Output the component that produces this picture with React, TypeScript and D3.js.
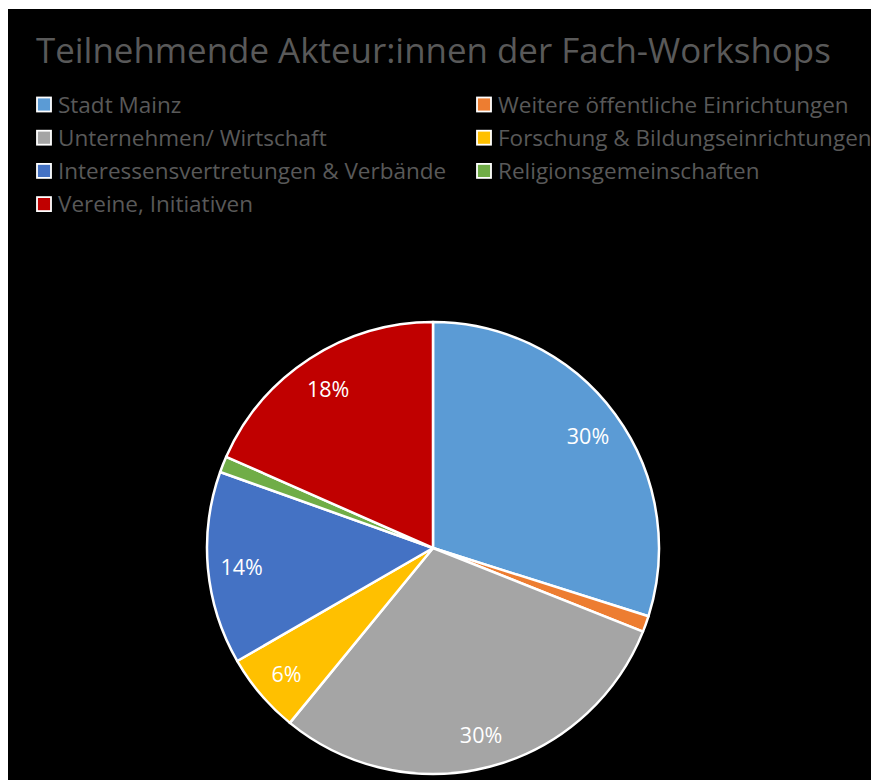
import React from 'react';
import { pie, arc, PieArcDatum } from 'd3';

// counts (labels show rounded shares)
const categories = [
  'Stadt Mainz',
  'Weitere öffentliche Einrichtungen',
  'Unternehmen/ Wirtschaft',
  'Forschung & Bildungseinrichtungen',
  'Interessensvertretungen & Verbände',
  'Religionsgemeinschaften',
  'Vereine, Initiativen',
];
const counts = [26, 1, 26, 5, 12, 1, 16];
const colors = ['#5B9BD5', '#ED7D31', '#A5A5A5', '#FFC000', '#4472C4', '#70AD47', '#C00000'];
// legend layout: column-major order in Excel's two-column legend
const legendOrder = [0, 2, 4, 6, 1, 3, 5];

const title = 'Teilnehmende Akteur:innen der Fach-Workshops';

const W = 863;
const H = 771;
const OX = 8; // page offset of the black card
const OY = 9;

type Slice = { name: string; value: number; color: string };
const slices: Slice[] = categories.map((name, i) => ({ name, value: counts[i], color: colors[i] }));

export default function App() {
  const cx = 433;
  const cy = 548;
  const R = 226;
  const total = counts.reduce((a, b) => a + b, 0);

  const arcs = pie<Slice>()
    .value(d => d.value)
    .sort(null)(slices);
  const arcGen = arc<PieArcDatum<Slice>>().innerRadius(0).outerRadius(R);
  const labelArc = arc<PieArcDatum<Slice>>().innerRadius(R * 0.85).outerRadius(R * 0.85);

  const font = '"Open Sans", sans-serif';
  const textGray = '#595959';

  return (
    <div style={{ position: 'fixed', left: OX, top: OY, width: W, height: H, background: '#000' }}>
      <svg width={W} height={H} style={{ display: 'block' }}>
        <g transform={`translate(${-OX},${-OY})`}>
          <text x={36} y={63} fill={textGray} fontFamily={font} fontSize={34.9}>
            {title}
          </text>

          {legendOrder.map((idx, k) => {
            const col = k < 4 ? 0 : 1;
            const row = k < 4 ? k : k - 4;
            const mx = col === 0 ? 37 : 477;
            const my = 104.5 + row * 33.2;
            return (
              <g key={idx}>
                <rect
                  x={mx}
                  y={my - 7}
                  width={14}
                  height={14}
                  fill={colors[idx]}
                  stroke="#fff"
                  strokeWidth={1.8}
                />
                <text
                  x={mx + 21}
                  y={my + 8}
                  fill={textGray}
                  fontFamily={font}
                  fontSize={22.5}
                >
                  {categories[idx]}
                </text>
              </g>
            );
          })}

          <g transform={`translate(${cx},${cy})`}>
            {arcs.map((a, i) => (
              <path key={i} d={arcGen(a) || ''} fill={a.data.color} stroke="#fff" strokeWidth={2.5} strokeLinejoin="round" />
            ))}
            {arcs.map((a, i) => {
              const pct = Math.round((a.data.value / total) * 100);
              if (pct < 3) return null;
              const [lx, ly] = labelArc.centroid(a);
              return (
                <text
                  key={i}
                  x={lx}
                  y={ly + 1}
                  textAnchor="middle"
                  dominantBaseline="central"
                  fill="#fff"
                  fontFamily={font}
                  fontSize={21.5}
                >
                  {pct}%
                </text>
              );
            })}
          </g>
        </g>
      </svg>
    </div>
  );
}
